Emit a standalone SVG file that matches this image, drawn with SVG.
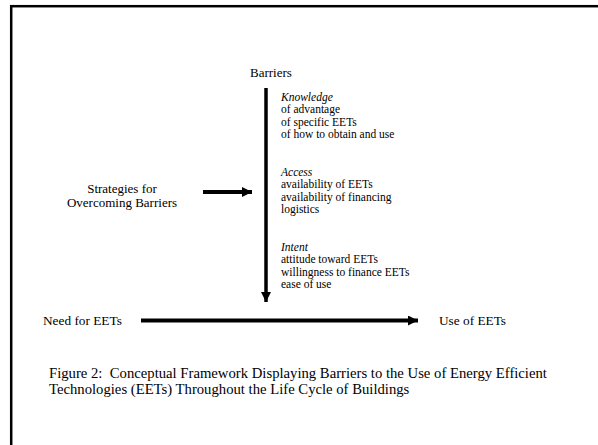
<svg xmlns="http://www.w3.org/2000/svg" width="598" height="445" viewBox="0 0 598 445">
<style>
text{font-family:"Liberation Serif","Times New Roman",serif;fill:#000;}
.l{font-size:13px;}
.m{font-size:13.3px;}
.s{font-size:11.5px;}
.f{font-size:14.7px;}
.i{font-style:italic;}
.c{stroke:#000;fill:none;}
</style>
<defs>
<marker id="ah" viewBox="0 0 10 10" refX="10" refY="5" markerUnits="userSpaceOnUse" markerWidth="11" markerHeight="10" orient="auto">
<path d="M0,0 L10,5 L0,10 Z" fill="#000"/>
</marker>
</defs>
<rect width="598" height="445" fill="#fff"/>
<rect x="11.2" y="6.2" width="700" height="500" fill="none" stroke="#000" stroke-width="2.5"/>
<g id="connectors">
<line class="c" x1="266" y1="88" x2="266" y2="302" stroke-width="3.5" marker-end="url(#ah)"/>
<line class="c" x1="203" y1="192" x2="252" y2="192" stroke-width="4" marker-end="url(#ah)"/>
<line class="c" x1="141" y1="320.5" x2="418" y2="320.5" stroke-width="4" marker-end="url(#ah)"/>
</g>
<g id="barriers">
<text class="l" x="250" y="77">Barriers</text>
</g>
<g id="barrier-list">
<text class="s i" x="281" y="100.5">Knowledge</text>
<text class="s" x="281" y="113">of advantage</text>
<text class="s" x="281" y="125.5">of specific EETs</text>
<text class="s" x="281" y="138">of how to obtain and use</text>
<text class="s i" x="281" y="175.5">Access</text>
<text class="s" x="281" y="188">availability of EETs</text>
<text class="s" x="281" y="200.5">availability of financing</text>
<text class="s" x="281" y="213">logistics</text>
<text class="s i" x="281" y="250.5">Intent</text>
<text class="s" x="281" y="263">attitude toward EETs</text>
<text class="s" x="281" y="275.5">willingness to finance EETs</text>
<text class="s" x="281" y="288">ease of use</text>
</g>
<g id="strategies">
<text class="l" x="122" y="193" text-anchor="middle">Strategies for</text>
<text class="l" x="122" y="207" text-anchor="middle">Overcoming Barriers</text>
</g>
<g id="need">
<text class="m" x="43" y="325">Need for EETs</text>
</g>
<g id="use">
<text class="m" x="439" y="325">Use of EETs</text>
</g>
<g id="caption">
<text class="f" x="49" y="378" xml:space="preserve">Figure 2:  Conceptual Framework Displaying Barriers to the Use of Energy Efficient</text>
<text class="f" x="49" y="394">Technologies (EETs) Throughout the Life Cycle of Buildings</text>
</g>
</svg>
